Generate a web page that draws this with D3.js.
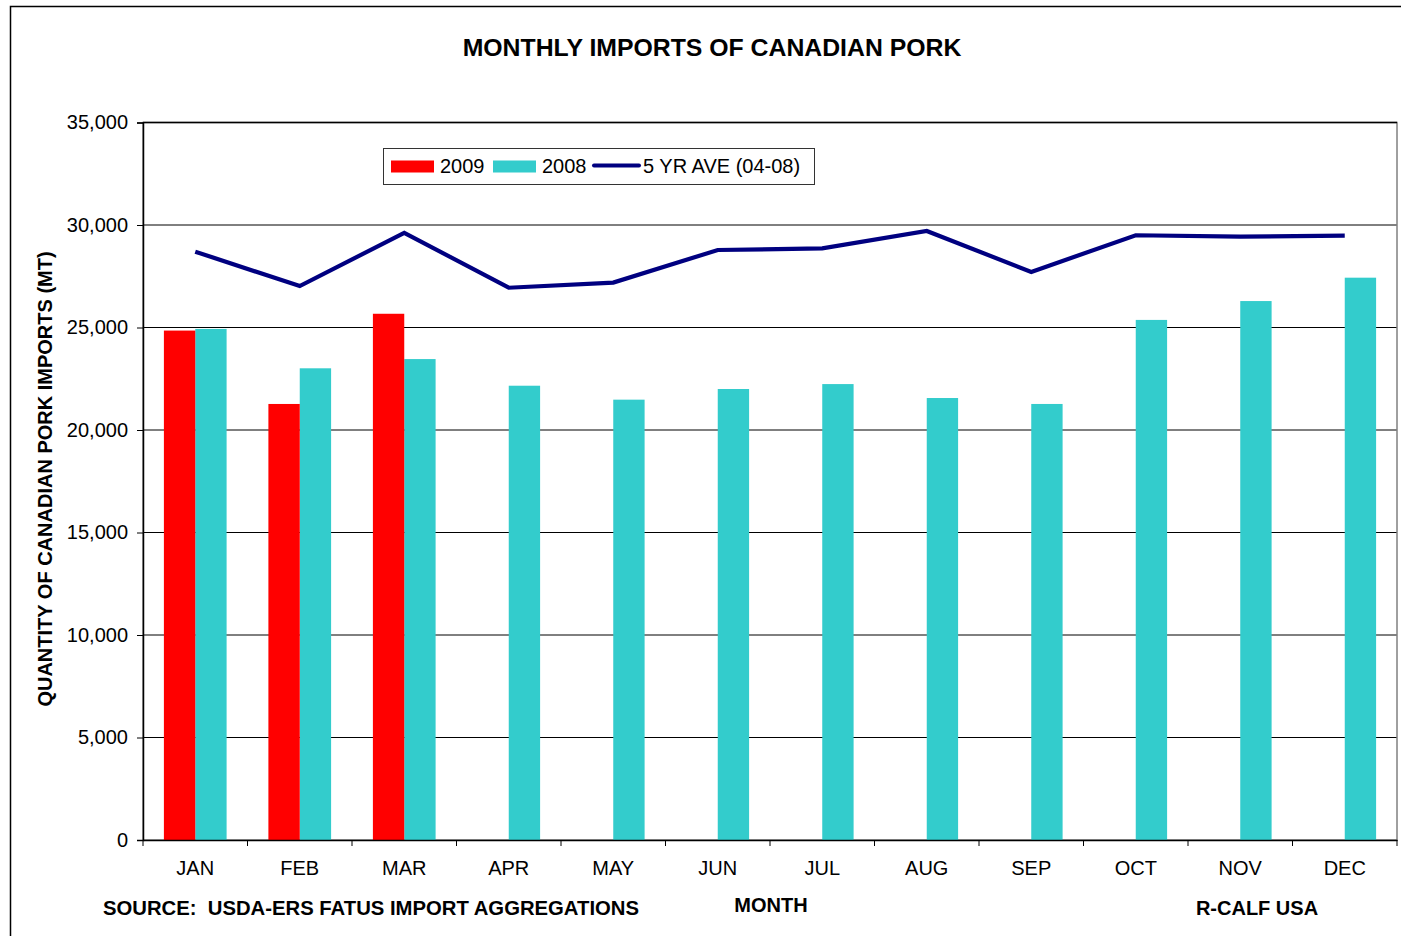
<!DOCTYPE html>
<html>
<head>
<meta charset="utf-8">
<script src="https://cdn.jsdelivr.net/npm/d3@7"></script>
<style>
  body { margin: 0; background: #fff; }
  svg text { font-family: Arial, "Liberation Sans", sans-serif; fill: #000; }
</style>
</head>
<body>
<div id="chart"></div>
<script>
// data
var months = ["JAN","FEB","MAR","APR","MAY","JUN","JUL","AUG","SEP","OCT","NOV","DEC"];
var imports2009 = [24850, 21270, 25670];
var imports2008 = [24930, 23010, 23460, 22160, 21480, 22000, 22240, 21560, 21270, 25370, 26290, 27430];
var fiveYrAve = [28700, 27020, 29620, 26940, 27190, 28780, 28860, 29710, 27710, 29500, 29430, 29480];
var yTicks = [0, 5000, 10000, 15000, 20000, 25000, 30000, 35000];

var width = 1401;
var height = 936;

// plot area (not "top" - that one is taken by window.top)
var plotLeft = 143, plotRight = 1397, plotTop = 122.5, plotBottom = 840;

var svg = d3.select("#chart")
    .append("svg")
    .attr("width", width)
    .attr("height", height);

// outer frame
svg.append("rect")
    .attr("x", 10.5).attr("y", 6.5)
    .attr("width", 1500).attr("height", 1000)
    .attr("fill", "none")
    .attr("stroke", "#000")
    .attr("stroke-width", 1.5);

var x = d3.scaleBand().domain(months).range([plotLeft, plotRight]).padding(0);
var bw = x.bandwidth();
var xSub = d3.scaleBand().domain(["2009", "2008"]).range([bw * 0.2, bw * 0.8]);
var y = d3.scaleLinear().domain([0, 35000]).range([plotBottom, plotTop]);

// gridlines
svg.append("g")
    .selectAll("line")
    .data(yTicks.filter(d => d > 0))
    .enter()
    .append("line")
    .attr("x1", plotLeft).attr("x2", plotRight)
    .attr("y1", d => y(d)).attr("y2", d => y(d))
    .attr("stroke", "#000")
    .attr("stroke-width", 1);

// plot border
svg.append("rect")
    .attr("x", plotLeft).attr("y", plotTop)
    .attr("width", plotRight - plotLeft).attr("height", plotBottom - plotTop)
    .attr("fill", "none")
    .attr("stroke", "#808080")
    .attr("stroke-width", 1.5);
svg.append("line")
    .attr("x1", plotLeft).attr("x2", plotRight)
    .attr("y1", plotTop).attr("y2", plotTop)
    .attr("stroke", "#000").attr("stroke-width", 1.5);

// bars
var bars = svg.append("g");
bars.selectAll(".b2008")
    .data(imports2008)
    .enter()
    .append("rect")
    .attr("class", "b2008")
    .attr("x", (d, i) => x(months[i]) + xSub("2008"))
    .attr("width", xSub.bandwidth())
    .attr("y", d => y(d))
    .attr("height", d => y(0) - y(d))
    .attr("fill", "#33CCCC");
bars.selectAll(".b2009")
    .data(imports2009)
    .enter()
    .append("rect")
    .attr("class", "b2009")
    .attr("x", (d, i) => x(months[i]) + xSub("2009"))
    .attr("width", xSub.bandwidth())
    .attr("y", d => y(d))
    .attr("height", d => y(0) - y(d))
    .attr("fill", "#FF0000");

// 5 yr average line
var line = d3.line()
    .x((d, i) => x(months[i]) + bw / 2)
    .y(d => y(d));
svg.append("path")
    .datum(fiveYrAve)
    .attr("d", line)
    .attr("fill", "none")
    .attr("stroke", "#000080")
    .attr("stroke-width", 4.2)
    .attr("stroke-linejoin", "miter");

// axes
var yAxis = d3.axisLeft(y)
    .tickValues(yTicks)
    .tickSize(6)
    .tickPadding(9)
    .tickFormat(d3.format(","));
var gy = svg.append("g")
    .attr("transform", `translate(${plotLeft},0)`)
    .call(yAxis);
gy.selectAll("text").style("font-size", "20px");
gy.selectAll("line").attr("stroke", "#000");
gy.select(".domain").attr("stroke", "#000").attr("stroke-width", 1.5);

var xAxis = d3.axisBottom(x).tickSize(0).tickPadding(0);
var gx = svg.append("g")
    .attr("transform", `translate(0,${plotBottom})`)
    .call(xAxis);
gx.select(".domain").attr("stroke", "#000").attr("stroke-width", 1.5);
gx.selectAll("text")
    .attr("y", 35)
    .attr("dy", 0)
    .style("font-size", "20px");
// ticks sit on the band edges
gx.selectAll(".edge")
    .data(months.concat(["end"]))
    .enter()
    .append("line")
    .attr("class", "edge")
    .attr("x1", (d, i) => i < 12 ? x(d) : plotRight)
    .attr("x2", (d, i) => i < 12 ? x(d) : plotRight)
    .attr("y1", 0).attr("y2", 6)
    .attr("stroke", "#000");

// titles
svg.append("text")
    .attr("x", 712).attr("y", 56)
    .attr("text-anchor", "middle")
    .style("font-size", "24.8px")
    .style("font-weight", "bold")
    .text("MONTHLY IMPORTS OF CANADIAN PORK");

svg.append("text")
    .attr("transform", "translate(52,479) rotate(-90)")
    .attr("text-anchor", "middle")
    .style("font-size", "20px")
    .style("font-weight", "bold")
    .text("QUANTITY OF CANADIAN PORK IMPORTS (MT)");

svg.append("text")
    .attr("x", 103).attr("y", 915)
    .style("font-size", "20.3px")
    .style("font-weight", "bold")
    .style("white-space", "pre")
    .text("SOURCE:  USDA-ERS FATUS IMPORT AGGREGATIONS");

svg.append("text")
    .attr("x", 771).attr("y", 912)
    .attr("text-anchor", "middle")
    .style("font-size", "20px")
    .style("font-weight", "bold")
    .text("MONTH");

svg.append("text")
    .attr("x", 1257).attr("y", 915)
    .attr("text-anchor", "middle")
    .style("font-size", "20px")
    .style("font-weight", "bold")
    .text("R-CALF USA");

// legend
var legend = svg.append("g");
legend.append("rect")
    .attr("x", 383.5).attr("y", 148.5)
    .attr("width", 431).attr("height", 36)
    .attr("fill", "#fff")
    .attr("stroke", "#333")
    .attr("stroke-width", 1);
legend.append("rect")
    .attr("x", 391).attr("y", 160.5).attr("width", 43).attr("height", 12)
    .attr("fill", "#FF0000");
legend.append("text")
    .attr("x", 440).attr("y", 172.5)
    .style("font-size", "20px")
    .text("2009");
legend.append("rect")
    .attr("x", 493).attr("y", 160.5).attr("width", 43).attr("height", 12)
    .attr("fill", "#33CCCC");
legend.append("text")
    .attr("x", 542).attr("y", 172.5)
    .style("font-size", "20px")
    .text("2008");
legend.append("line")
    .attr("x1", 594).attr("x2", 639)
    .attr("y1", 165.5).attr("y2", 165.5)
    .attr("stroke", "#000080")
    .attr("stroke-width", 4)
    .attr("stroke-linecap", "round");
legend.append("text")
    .attr("x", 643).attr("y", 172.5)
    .style("font-size", "20px")
    .text("5 YR AVE (04-08)");
</script>
</body>
</html>
